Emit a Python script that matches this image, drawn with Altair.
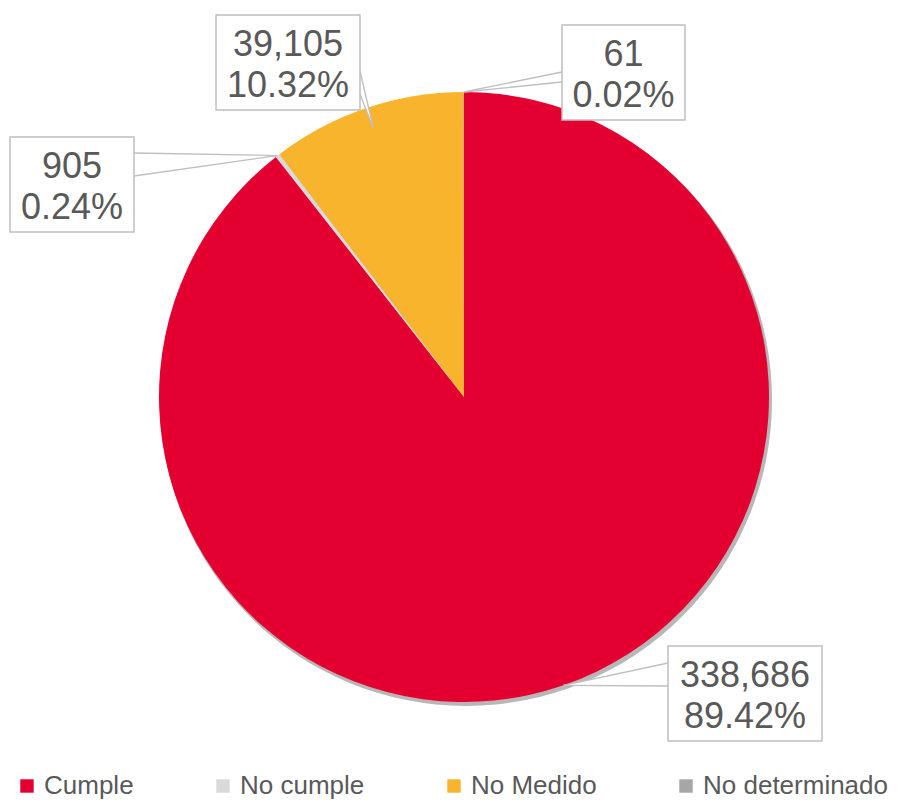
import math
import altair as alt
import pandas as pd

# ---- data ----
categories = ["Cumple", "No cumple", "No Medido", "No determinado"]
values = [338686, 905, 39105, 61]
value_labels = ["338,686", "905", "39,105", "61"]
percent_labels = ["89.42%", "0.24%", "10.32%", "0.02%"]
colors = ["#E30031", "#D9D9D9", "#F8B42D", "#A6A6A6"]

# ---- layout (chart pixel coordinates) ----
W, H = 883, 794
CX, CY, R = 456, 389, 305
# label boxes: left, top, right, bottom
boxes = [(660, 638, 814, 733), (2, 129, 126, 224), (208, 7, 352, 102), (554, 17, 677, 112)]
# callout base on box edge: x, y_top, y_bottom
callout_base = [(660, 655, 678), (126, 145, 168), (352, 63, 86), (554, 64, 74)]
anchor_radius = [1.0, 1.0, 0.93, 1.0]
FONT = "Liberation Sans, Arial, sans-serif"
TXT = "#595959"

total = sum(values)
cum = 0.0
rows = []
for i, (c, v) in enumerate(zip(categories, values)):
    mid = (cum + v / 2) / total * 2 * math.pi
    cum += v
    ax = CX + R * anchor_radius[i] * math.sin(mid)
    ay = CY - R * anchor_radius[i] * math.cos(mid)
    l, t, r, b = boxes[i]
    bx, byt, byb = callout_base[i]
    rows.append(dict(cat=c, ax=ax, ay=ay, l=l, t=t, r=r, b=b, bx=bx, byt=byt, byb=byb,
                     tx=(l + r) / 2, ty1=t + 30, ty2=t + 71,
                     v=value_labels[i], p=percent_labels[i]))
lab = pd.DataFrame(rows)

# wedge triangle as area: two points per label
wedge_rows = []
for rr in rows:
    wedge_rows.append(dict(cat=rr["cat"], x=rr["ax"], y=rr["ay"], y2=rr["ay"]))
    wedge_rows.append(dict(cat=rr["cat"], x=rr["bx"], y=rr["byt"], y2=rr["byb"]))
wedges = pd.DataFrame(wedge_rows)

pie_df = pd.DataFrame({"cat": categories, "value": values, "order": list(range(len(categories)))})

color_scale = alt.Scale(domain=categories, range=colors)

shadow = alt.Chart(pie_df).mark_arc(theta=0, theta2=2 * math.pi, radius=R + 1, color="#000000",
                                     opacity=0.08).encode(
    x=alt.value(CX + 2), y=alt.value(CY + 3))

pie = alt.Chart(pie_df).mark_arc(radius=R).encode(
    theta=alt.Theta("value:Q", stack=True),
    order=alt.Order("order:Q"),
    color=alt.Color("cat:N", scale=color_scale, sort=categories,
                    legend=alt.Legend(title=None, orient="none", direction="horizontal",
                                      legendX=6, legendY=765, symbolType="square",
                                      symbolSize=180, symbolStrokeWidth=0,
                                      labelFontSize=26, labelFont=FONT, labelColor=TXT,
                                      columnPadding=76, labelOffset=4, labelLimit=400)),
    x=alt.value(CX), y=alt.value(CY),
)

wedge_fill = alt.Chart(wedges).mark_area(color="white", opacity=1).encode(
    x=alt.X("x:Q", scale=None), y=alt.Y("y:Q", scale=None), y2="y2:Q", detail="cat:N")

rule_top = alt.Chart(lab).mark_rule(color="#BFBFBF", strokeWidth=1.3).encode(
    x=alt.X("bx:Q", scale=None), y=alt.Y("byt:Q", scale=None), x2="ax:Q", y2="ay:Q")
rule_bot = alt.Chart(lab).mark_rule(color="#BFBFBF", strokeWidth=1.3).encode(
    x=alt.X("bx:Q", scale=None), y=alt.Y("byb:Q", scale=None), x2="ax:Q", y2="ay:Q")

box = alt.Chart(lab).mark_rect(fill="white", stroke="#BFBFBF", strokeWidth=1.5).encode(
    x=alt.X("l:Q", scale=None), x2="r:Q", y=alt.Y("t:Q", scale=None), y2="b:Q")

t1 = alt.Chart(lab).mark_text(font=FONT, fontSize=36, color=TXT, baseline="middle").encode(
    x=alt.X("tx:Q", scale=None), y=alt.Y("ty1:Q", scale=None), text="v:N")
t2 = alt.Chart(lab).mark_text(font=FONT, fontSize=36, color=TXT, baseline="middle").encode(
    x=alt.X("tx:Q", scale=None), y=alt.Y("ty2:Q", scale=None), text="p:N")

chart = alt.layer(shadow, pie, wedge_fill, rule_top, rule_bot, box, t1, t2).properties(
    width=W, height=H, padding=0, autosize=alt.AutoSizeParams(type="none")
).configure_view(stroke=None)

chart.save("out.html", embed_options={"renderer": "svg", "actions": False})
